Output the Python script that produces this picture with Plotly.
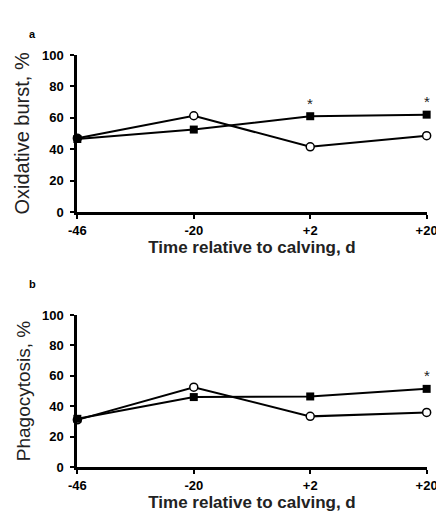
import plotly.graph_objects as go

days = ['-46', '-20', '+2', '+20']

burst_filled = [46.5, 52.5, 61, 62]
burst_open = [47, 61.3, 41.5, 48.6]
burst_sig = [False, False, True, True]

phago_filled = [31.7, 46, 46.4, 51.4]
phago_open = [31, 52.5, 33.3, 35.9]
phago_sig = [False, False, False, True]

FONT = 'Liberation Sans, Arial, sans-serif'

fig = go.Figure()


def add_pair(filled, opened, xa, ya):
    fig.add_trace(go.Scatter(
        x=days, y=opened, xaxis=xa, yaxis=ya,
        mode='lines+markers', cliponaxis=False,
        line=dict(color='black', width=2),
        marker=dict(symbol='circle', size=8, color='white',
                    line=dict(color='black', width=1.5))
    ))
    fig.add_trace(go.Scatter(
        x=days, y=filled, xaxis=xa, yaxis=ya,
        mode='lines+markers', cliponaxis=False,
        line=dict(color='black', width=2),
        marker=dict(symbol='square', size=8, color='black')
    ))


add_pair(burst_filled, burst_open, 'x', 'y')
add_pair(phago_filled, phago_open, 'x2', 'y2')

annotations = []
for xref, yref, vals, sig in [('x', 'y', burst_filled, burst_sig),
                               ('x2', 'y2', phago_filled, phago_sig)]:
    for i, (v, s) in enumerate(zip(vals, sig)):
        if s:
            # category index, since '+20' would be read as the number 20
            annotations.append(dict(
                x=i, y=v, xref=xref, yref=yref, text='*', showarrow=False,
                yshift=13, font=dict(family=FONT, size=15, color='#222')
            ))

annotations.append(dict(x=-0.143, y=1.07, xref='paper', yref='paper', text='<b>a</b>',
                        showarrow=False, font=dict(family=FONT, size=11, color='black')))
annotations.append(dict(x=-0.143, y=0.444, xref='paper', yref='paper', text='<b>b</b>',
                        showarrow=False, font=dict(family=FONT, size=11, color='black')))

XR = [-0.003, 3.003]

xcommon = dict(
    type='category', categoryorder='array', categoryarray=days, range=XR,
    showgrid=False, zeroline=False, showline=True, linecolor='black', linewidth=3,
    ticks='outside', ticklen=4, tickwidth=2, tickcolor='black',
    tickfont=dict(family=FONT, size=13, color='black', weight='bold'),
    title=dict(text='Time relative to calving, d', standoff=5,
               font=dict(family=FONT, size=17, color='#222', weight='bold'))
)
ycommon = dict(
    range=[0, 100], tickvals=[0, 20, 40, 60, 80, 100],
    showgrid=False, zeroline=False, showline=True, linecolor='black', linewidth=2.5,
    ticks='outside', ticklen=4, tickwidth=2, tickcolor='black', ticklabelstandoff=4,
    tickfont=dict(family=FONT, size=13, color='black', weight='bold'),
)
xinside = dict(
    type='linear', range=XR, tickvals=[0, 1, 2, 3], showticklabels=False,
    showgrid=False, zeroline=False, showline=False,
    ticks='inside', ticklen=4, tickwidth=2, tickcolor='black'
)

fig.update_layout(
    width=444, height=520,
    paper_bgcolor='white', plot_bgcolor='white',
    showlegend=False,
    margin=dict(l=69, r=25, t=47, b=61),
    xaxis=dict(xcommon, anchor='y', domain=[0, 1]),
    yaxis=dict(ycommon, anchor='x', domain=[0.619, 1],
               title=dict(text='Oxidative burst, %', standoff=7,
                          font=dict(family=FONT, size=20, color='#222'))),
    xaxis2=dict(xcommon, anchor='y2', domain=[0, 1]),
    yaxis2=dict(ycommon, anchor='x2', domain=[0, 0.369],
                title=dict(text='Phagocytosis, %', standoff=7,
                           font=dict(family=FONT, size=19, color='#222'))),
    xaxis3=dict(xinside, overlaying='x', anchor='y'),
    xaxis4=dict(xinside, overlaying='x2', anchor='y2'),
    annotations=annotations,
)

fig.write_html('out.html')
